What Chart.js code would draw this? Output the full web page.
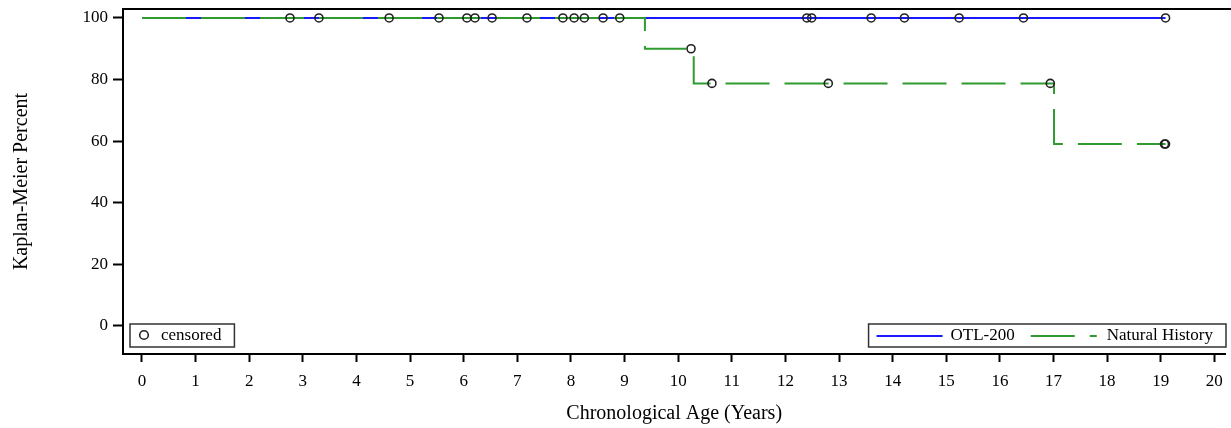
<!DOCTYPE html>
<html>
<head>
<meta charset="utf-8">
<script src="https://cdn.jsdelivr.net/npm/chart.js@4"></script>
<style>
  html, body { margin: 0; padding: 0; background: #fff; overflow: hidden; }
  #wrap { width: 1231px; height: 428px; position: relative; }
</style>
</head>
<body>
<div id="wrap"><canvas id="kmChart"></canvas></div>
<script>
// KAPLAN-MEIER DATA

const seriesNames = ["OTL-200", "Natural History"];
const otlTimes = [0, 19.09];
const otlSurv = [100, 100];
const nhTimes = [0, 9.38, 10.29, 17.01, 19.09];
const nhSurv = [100, 90, 78.75, 59.06, 59.06];

// censored observations
const otlCensTimes = [2.76, 3.30, 4.61, 5.54, 6.06, 6.21, 6.53, 7.18, 7.85, 8.06, 8.25, 8.60, 8.91, 12.40, 12.49, 13.60, 14.22, 15.24, 16.44, 19.09];
const otlCensSurv = [100, 100, 100, 100, 100, 100, 100, 100, 100, 100, 100, 100, 100, 100, 100, 100, 100, 100, 100, 100];
const nhCensTimes = [10.24, 10.63, 12.80, 16.94, 19.07, 19.09];
const nhCensSurv = [90, 78.75, 78.75, 78.75, 59.06, 59.06];

const xTicks = [0, 1, 2, 3, 4, 5, 6, 7, 8, 9, 10, 11, 12, 13, 14, 15, 16, 17, 18, 19, 20];
const yTicks = [0, 20, 40, 60, 80, 100];

const blue = "#1a1aff";
const green = "#2f9a2f";
const serif = '"Liberation Serif", "Times New Roman", serif';

function toPoints(xs, ys) {
  return xs.map((x, i) => ({ x: x, y: ys[i] }));
}

// keep chart area fixed: no extra room for half tick labels
function noPad(s) {
  s.paddingTop = 0;
  s.paddingBottom = 0;
  s.paddingLeft = 0;
  s.paddingRight = 0;
}

// legends drawn inside the plot, plus the top frame line
const kmLegends = {
  id: 'kmLegends',
  afterDraw(chart) {
    const ctx = chart.ctx;
    const a = chart.chartArea;
    ctx.save();

    // top frame
    ctx.strokeStyle = '#000';
    ctx.lineWidth = 2;
    ctx.beginPath();
    ctx.moveTo(a.left, a.top);
    ctx.lineTo(a.right + 10, a.top);
    ctx.stroke();

    ctx.font = '17px ' + serif;
    ctx.textBaseline = 'middle';
    ctx.fillStyle = '#000';
    const h = 23;
    const y0 = a.bottom - 7 - h;
    const yc = y0 + h / 2 + 0.5;

    // censored box
    const cw = ctx.measureText('censored').width;
    const bx = a.left + 7;
    ctx.fillStyle = '#fff';
    ctx.fillRect(bx, y0, 31 + cw + 13, h);
    ctx.strokeStyle = '#333';
    ctx.lineWidth = 1.5;
    ctx.strokeRect(bx, y0, 31 + cw + 13, h);
    ctx.beginPath();
    ctx.arc(bx + 14, yc - 1, 4.3, 0, Math.PI * 2);
    ctx.strokeStyle = '#222';
    ctx.lineWidth = 1.6;
    ctx.stroke();
    ctx.fillStyle = '#000';
    ctx.fillText('censored', bx + 31, yc);

    // group legend box
    const sw = 66;
    const w1 = ctx.measureText(seriesNames[0]).width;
    const w2 = ctx.measureText(seriesNames[1]).width;
    const total = 8 + sw + 8 + w1 + 16 + sw + 10 + w2 + 13;
    const rx = 1226 - total;
    ctx.fillStyle = '#fff';
    ctx.fillRect(rx, y0, total, h);
    ctx.strokeStyle = '#333';
    ctx.lineWidth = 1.5;
    ctx.strokeRect(rx, y0, total, h);

    let x = rx + 8;
    ctx.lineWidth = 2;
    ctx.strokeStyle = blue;
    ctx.beginPath();
    ctx.moveTo(x, yc);
    ctx.lineTo(x + sw, yc);
    ctx.stroke();
    x += sw + 8;
    ctx.fillStyle = '#000';
    ctx.fillText(seriesNames[0], x, yc);
    x += w1 + 16;
    ctx.strokeStyle = green;
    ctx.setLineDash([44, 15]);
    ctx.beginPath();
    ctx.moveTo(x, yc);
    ctx.lineTo(x + sw, yc);
    ctx.stroke();
    ctx.setLineDash([]);
    x += sw + 10;
    ctx.fillText(seriesNames[1], x, yc);

    ctx.restore();
  }
};

new Chart("kmChart", {
  type: "line",
  data: {
    datasets: [
      {
        type: "scatter",
        data: toPoints(otlCensTimes, otlCensSurv).concat(toPoints(nhCensTimes, nhCensSurv)),
        pointStyle: "circle",
        pointRadius: 4,
        pointBorderWidth: 1.6,
        pointBorderColor: "#222",
        pointBackgroundColor: "rgba(0,0,0,0)",
        showLine: false
      },
      {
        data: toPoints(nhTimes, nhSurv),
        stepped: "before",
        borderColor: green,
        borderWidth: 2,
        borderDash: [44, 15],
        pointRadius: 0,
        fill: false
      },
      {
        data: toPoints(otlTimes, otlSurv),
        stepped: "before",
        borderColor: blue,
        borderWidth: 2,
        pointRadius: 0,
        fill: false
      }
    ]
  },
  options: {
    responsive: true,
    maintainAspectRatio: false,
    animation: false,
    devicePixelRatio: 1,
    layout: { padding: { top: 9, right: 1, left: 0, bottom: 0 } },
    plugins: {
      legend: { display: false },
      tooltip: { enabled: false }
    },
    scales: {
      x: {
        type: "linear",
        min: -0.354,
        max: 20.206,
        afterBuildTicks: s => { s.ticks = xTicks.map(v => ({ value: v })); },
        afterFit: s => { s.height = 74; noPad(s); },
        ticks: { font: { family: serif, size: 17 }, color: "#000", padding: 9, maxRotation: 0, autoSkip: false },
        grid: { drawOnChartArea: false, tickLength: 8, tickWidth: 2, tickColor: "#000" },
        border: { color: "#000", width: 2 },
        title: {
          display: true,
          text: "Chronological Age (Years)",
          font: { family: serif, size: 20 },
          color: "#000",
          padding: { top: 0, bottom: 2 }
        }
      },
      y: {
        min: -9.1,
        max: 102.9,
        afterBuildTicks: s => { s.ticks = yTicks.map(v => ({ value: v })); },
        afterFit: s => { s.width = 123; noPad(s); },
        ticks: { font: { family: serif, size: 17 }, color: "#000", padding: 5 },
        grid: { drawOnChartArea: false, tickLength: 10, tickWidth: 2, tickColor: "#000" },
        border: { color: "#000", width: 2 },
        title: {
          display: true,
          text: "Kaplan-Meier Percent",
          font: { family: serif, size: 20 },
          color: "#000",
          padding: { top: 10, bottom: 0 }
        }
      }
    }
  },
  plugins: [kmLegends]
});
</script>
</body>
</html>
